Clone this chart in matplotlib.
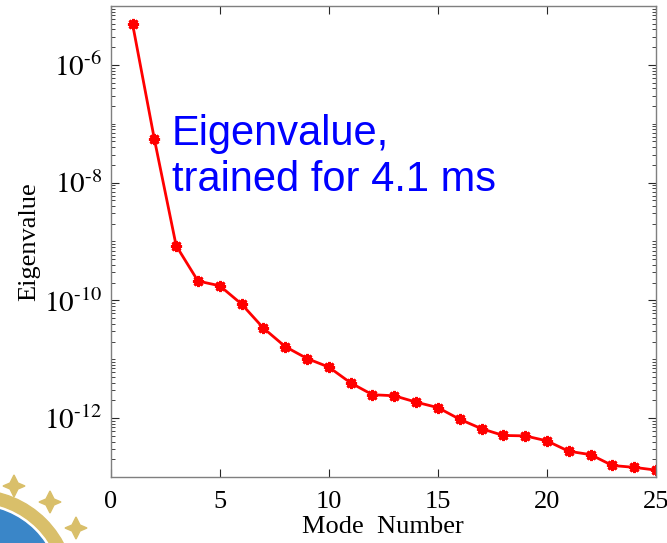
import numpy as np
import matplotlib
matplotlib.use('Agg')
import matplotlib.pyplot as plt
from matplotlib.ticker import FixedLocator, LogLocator, NullFormatter
from matplotlib.patches import Circle, Wedge, Polygon

# ===================== DATA =====================
mode_number = list(range(1, 26))
eigenvalue = [4.98e-6, 5.5e-8, 8.5e-10, 2.13e-10, 1.77e-10,
              8.65e-11, 3.38e-11, 1.64e-11, 1.03e-11, 7.36e-12,
              3.97e-12, 2.5e-12, 2.4e-12, 1.87e-12, 1.51e-12,
              9.57e-13, 6.62e-13, 5.08e-13, 5.0e-13, 4.11e-13,
              2.74e-13, 2.4e-13, 1.57e-13, 1.46e-13, 1.31e-13]
x_ticks = [0, 5, 10, 15, 20, 25]
y_ticks = [1e-12, 1e-10, 1e-8, 1e-6]
y_tick_labels = [r'$10^{\text{-}12}$', r'$10^{\text{-}10}$',
                 r'$10^{\text{-}8}$', r'$10^{\text{-}6}$']

plt.rcParams['mathtext.fontset'] = 'stix'
plt.rcParams['font.family'] = ['Liberation Serif', 'DejaVu Serif']

# ===================== FIGURE =====================
fig = plt.figure(figsize=(6.67, 5.43), dpi=100)
ax = fig.add_axes([0.166, 0.1215, 0.8175, 0.8675])

# asterisk marker like MATLAB '-*'
ax.plot(mode_number, eigenvalue, '-', marker=(8, 2, 0), color='#ff0000',
        linewidth=2, markersize=8, markeredgewidth=2)

ax.set_yscale('log')
ax.set_xlim(0, 25)
ax.set_ylim(1e-13, 1e-5)

ax.xaxis.set_major_locator(FixedLocator(x_ticks))
ax.set_xticklabels([str(t) for t in x_ticks])
ax.yaxis.set_major_locator(FixedLocator(y_ticks))
ax.set_yticklabels(y_tick_labels)
ax.yaxis.set_minor_locator(LogLocator(base=10, subs=np.arange(1, 10), numticks=100))
ax.yaxis.set_minor_formatter(NullFormatter())

ax.tick_params(which='both', direction='in', top=True, right=True,
               colors='#262626', labelcolor='black', labelsize=19)
ax.tick_params(which='major', length=6, width=0.8)
ax.tick_params(which='minor', length=3, width=0.6)
ax.tick_params(axis='x', pad=10)
ax.tick_params(axis='y', pad=6, labelsize=21)
for s in ax.spines.values():
    s.set_color('#7f7f7f')
    s.set_linewidth(1.0)

ax.set_xlabel('Mode  Number', fontsize=19, labelpad=2)
ax.set_ylabel('Eigenvalue', fontsize=19, labelpad=3)

ax.text(2.8, 2.7e-8, 'Eigenvalue,\ntrained for 4.1 ms', color='#0000ff',
        fontsize=30, family=['Liberation Sans', 'DejaVu Sans'],
        va='center', ha='left', linespacing=1.2)

# ---------- logo corner (approximation) ----------
deco = fig.add_axes([0, 0, 1, 1], zorder=-1)
deco.set_xlim(0, 667)
deco.set_ylim(543, 0)
deco.axis('off')
deco.add_patch(Wedge((-25, 590), 100, 270, 360, width=12, color='#d9bf6a'))
deco.add_patch(Circle((-25, 590), 84, color='#3a86c8'))
for px, py in [(14, 486), (50, 502), (76, 528)]:
    star = Polygon([(px, py - 11), (px + 4, py - 3), (px + 11, py), (px + 4, py + 3),
                    (px, py + 11), (px - 4, py + 3), (px - 11, py), (px - 4, py - 3)],
                   closed=True, color='#d9bf6a')
    deco.add_patch(star)

fig.savefig('out.png', dpi=100)
